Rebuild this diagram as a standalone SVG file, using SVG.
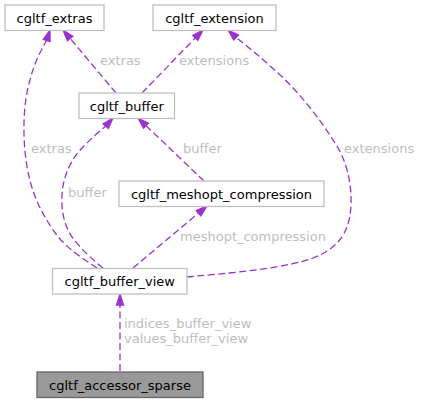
<svg xmlns="http://www.w3.org/2000/svg" width="421" height="403" viewBox="0 0 421 403">
<style>
.node rect{fill:#ffffff;stroke:#bfbfbf;stroke-width:1.3}
.root rect{fill:#999999;stroke:#666666;stroke-width:1.3}
.nt{font-family:"DejaVu Sans","Liberation Sans",sans-serif;font-size:13px;fill:#000000;text-anchor:middle}
.edge path{fill:none;stroke:#9a32cd;stroke-width:1.3;stroke-dasharray:7,3.5}
.edge polygon{fill:#9a32cd;stroke:#9a32cd;stroke-width:1.3}
.lbl{font-family:"DejaVu Sans","Liberation Sans",sans-serif;font-size:13px;fill:#bebebe}
</style>
<rect width="421" height="403" fill="#ffffff"/>
<g id="connectors">
  <g class="edge" id="e_buffer_extras">
    <path d="M116,93 L70.1,38.4"/>
    <polygon points="63,30 72.8,36.2 67.4,40.7"/>
    <text class="lbl" x="100" y="65">extras</text>
  </g>
  <g class="edge" id="e_buffer_extension">
    <path d="M142,93 L195.3,37.9"/>
    <polygon points="203,30 197.8,40.3 192.8,35.5"/>
    <text class="lbl" x="179" y="65">extensions</text>
  </g>
  <g class="edge" id="e_view_extras">
    <path d="M97,268 C85,260 66,248 56,234 C40,212 30,190 26,160 C22,130 24,100 30,80 C34,64 40,52 46.6,40.5"/>
    <polygon points="50,30 50,41.6 43.3,39.4"/>
    <text class="lbl" x="31" y="153">extras</text>
  </g>
  <g class="edge" id="e_view_buffer">
    <path d="M103,268 C95,262 80,248 72,237 C64,225 61,210 62,195 C63,175 72,158 83,147 C90,140 98,132 105.7,126.2"/>
    <polygon points="113,118 108.3,128.5 103.1,123.9"/>
    <text class="lbl" x="68" y="197">buffer</text>
  </g>
  <g class="edge" id="e_meshopt_buffer">
    <path d="M204,181 L146,125.6"/>
    <polygon points="138,118 148.4,123.1 143.6,128.1"/>
    <text class="lbl" x="183" y="153">buffer</text>
  </g>
  <g class="edge" id="e_view_meshopt">
    <path d="M133,268 L198.6,213.1"/>
    <polygon points="207,206 200.8,215.8 196.3,210.4"/>
    <text class="lbl" x="180" y="241">meshopt_compression</text>
  </g>
  <g class="edge" id="e_view_extension">
    <path d="M187,277 C215,274 280,270 313,258 C340,248 350,230 351,205 C352,180 345,158 335,143 C318,116 296,88 270,66 C258,55 247,46 236.1,37.4"/>
    <polygon points="228,30 238.5,34.9 233.7,40"/>
    <text class="lbl" x="344" y="153">extensions</text>
  </g>
  <g class="edge" id="e_sparse_view">
    <path d="M120,371 L120,305"/>
    <polygon points="120,294 123.5,305 116.5,305"/>
    <text class="lbl" x="124" y="328">indices_buffer_view</text>
    <text class="lbl" x="124" y="343">values_buffer_view</text>
  </g>
</g>
<g class="node" id="cgltf_extras">
  <rect x="5" y="5" width="99" height="25.5"/>
  <text class="nt" x="54.5" y="22.5">cgltf_extras</text>
</g>
<g class="node" id="cgltf_extension">
  <rect x="153" y="5" width="123" height="25.5"/>
  <text class="nt" x="214.5" y="22.5">cgltf_extension</text>
</g>
<g class="node" id="cgltf_buffer">
  <rect x="79" y="93" width="95.5" height="25.5"/>
  <text class="nt" x="126.75" y="110.5">cgltf_buffer</text>
</g>
<g class="node" id="cgltf_meshopt_compression">
  <rect x="119" y="181" width="205" height="25.5"/>
  <text class="nt" x="221.5" y="198.5">cgltf_meshopt_compression</text>
</g>
<g class="node" id="cgltf_buffer_view">
  <rect x="52.5" y="268.5" width="134.5" height="25.5"/>
  <text class="nt" x="119.75" y="286">cgltf_buffer_view</text>
</g>
<g class="root" id="cgltf_accessor_sparse">
  <rect x="37" y="372" width="166" height="25.5"/>
  <text class="nt" x="120" y="389.5">cgltf_accessor_sparse</text>
</g>
</svg>
